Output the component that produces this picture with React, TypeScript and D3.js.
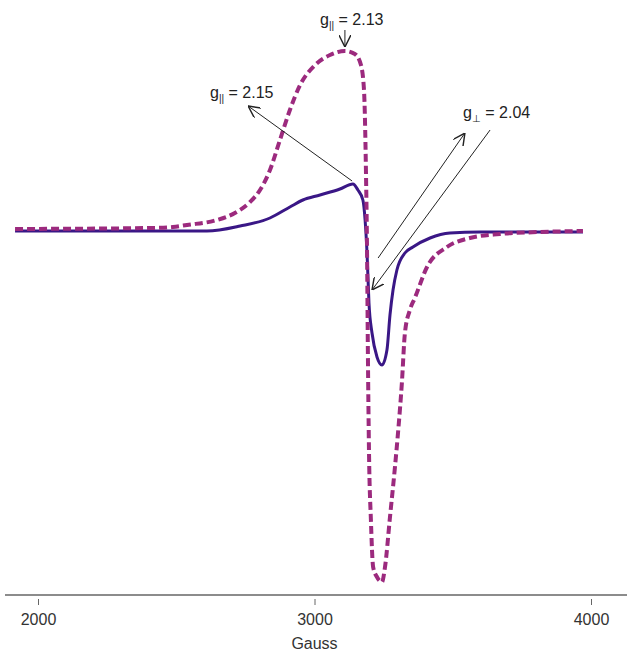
import { useEffect, useRef } from 'react';
import * as d3 from 'd3';

// EPR spectrum, field in Gauss, intensity in arbitrary units
const solidField = [1917, 2224, 2611, 2731, 2839, 2911, 2958, 3020, 3092, 3139, 3157, 3175, 3183, 3190, 3197, 3208, 3226, 3244, 3262, 3273, 3284, 3298, 3327, 3356, 3418, 3490, 3598, 3971];
const solidValue = [0, 0, 0, 5, 13, 24, 31, 36, 42, 47, 41, 31, 11, -22, -72, -102, -126, -134, -119, -84, -59, -39, -22, -16, -7, -2, -1, -1];

const dashedField = [1917, 2405, 2488, 2539, 2647, 2712, 2767, 2803, 2839, 2875, 2911, 2948, 3002, 3056, 3110, 3146, 3168, 3179, 3186, 3190, 3193, 3197, 3204, 3212, 3226, 3244, 3255, 3273, 3291, 3302, 3316, 3327, 3345, 3363, 3407, 3479, 3562, 3671, 3816, 3971];
const dashedValue = [2, 3, 4, 6, 11, 18, 29, 41, 61, 91, 121, 146, 166, 176, 180, 177, 166, 141, 61, -19, -119, -219, -289, -336, -346, -351, -336, -286, -236, -202, -152, -102, -79, -67, -36, -16, -7, -3, -1, 0];

const xTicks = [2000, 3000, 4000];

// annotations: label position and arrows (from -> to) in data units
const labelSub = ['||', '||', '⊥'];
const labelValue = ['2.13', '2.15', '2.04'];
const labelPos: [number, number][] = [[3020, 206], [2622, 133], [3537, 113]];
const arrows: [number, number, number, number][] = [
  [3110, 201, 3110, 184],
  [3136, 50, 2760, 125],
  [3230, -27, 3544, 98],
  [3635, 101, 3208, -59],
];

export default function App() {
  const svgRef = useRef<SVGSVGElement>(null);

  useEffect(() => {
    if (!svgRef.current) return;
    const svg = d3.select(svgRef.current);
    svg.selectAll('*').remove();

    const width = 627;
    const height = 653;
    const axisY = 595;
    const font = 'Liberation Sans, Arial, sans-serif';

    const x = d3.scaleLinear().domain([2000, 4000]).range([38, 591]);
    const y = d3.scaleLinear().domain([-360, 190]).range([591, 41]);

    svg.append('defs')
      .append('marker')
      .attr('id', 'arr')
      .attr('viewBox', '0 0 10 10')
      .attr('refX', 10)
      .attr('refY', 5)
      .attr('markerWidth', 12)
      .attr('markerHeight', 12)
      .attr('markerUnits', 'userSpaceOnUse')
      .attr('orient', 'auto')
      .append('path')
      .attr('d', 'M0,0 L10,5 L0,10')
      .attr('fill', 'none')
      .attr('stroke', '#222')
      .attr('stroke-width', 1.2);

    const line = d3.line<[number, number]>()
      .x(d => x(d[0]))
      .y(d => y(d[1]))
      .curve(d3.curveMonotoneX);

    svg.append('path')
      .datum(solidField.map((f, i) => [f, solidValue[i]] as [number, number]))
      .attr('d', line)
      .attr('fill', 'none')
      .attr('stroke', '#3a1786')
      .attr('stroke-width', 3);

    svg.append('path')
      .datum(dashedField.map((f, i) => [f, dashedValue[i]] as [number, number]))
      .attr('d', line)
      .attr('fill', 'none')
      .attr('stroke', '#9c2a7e')
      .attr('stroke-width', 4)
      .attr('stroke-dasharray', '8,4');

    // arrows
    svg.append('g')
      .selectAll('line')
      .data(arrows)
      .join('line')
      .attr('x1', d => x(d[0]))
      .attr('y1', d => y(d[1]))
      .attr('x2', d => x(d[2]))
      .attr('y2', d => y(d[3]))
      .attr('stroke', '#222')
      .attr('stroke-width', 1)
      .attr('marker-end', 'url(#arr)');

    // labels
    const labels = svg.append('g')
      .attr('font-family', font)
      .attr('font-size', 16)
      .attr('fill', '#222')
      .selectAll('text')
      .data(labelPos)
      .join('text')
      .attr('x', d => x(d[0]))
      .attr('y', d => y(d[1]));
    labels.append('tspan').text('g');
    labels.append('tspan')
      .attr('font-size', 10)
      .attr('dy', 4)
      .text((_, i) => labelSub[i]);
    labels.append('tspan')
      .attr('dy', -4)
      .text((_, i) => ` = ${labelValue[i]}`);

    // axis
    svg.append('line')
      .attr('x1', 5)
      .attr('x2', width)
      .attr('y1', axisY)
      .attr('y2', axisY)
      .attr('stroke', '#666')
      .attr('stroke-width', 1.5);

    const ax = svg.append('g')
      .attr('transform', `translate(0,${axisY})`)
      .call(d3.axisBottom(x).tickValues(xTicks).tickSize(10).tickFormat(d3.format('d')));
    ax.select('.domain').remove();
    ax.selectAll('.tick line').attr('y1', 4).attr('stroke', '#666');
    ax.selectAll('.tick text')
      .attr('y', 19)
      .attr('font-family', font)
      .attr('font-size', 16)
      .attr('fill', '#333');

    svg.append('text')
      .attr('x', x(3000))
      .attr('y', height - 4)
      .attr('text-anchor', 'middle')
      .attr('font-family', font)
      .attr('font-size', 16)
      .attr('fill', '#333')
      .text('Gauss');
  }, []);

  return (
    <svg
      ref={svgRef}
      width={627}
      height={653}
      style={{ position: 'absolute', left: 0, top: 0, background: '#fff' }}
    />
  );
}
